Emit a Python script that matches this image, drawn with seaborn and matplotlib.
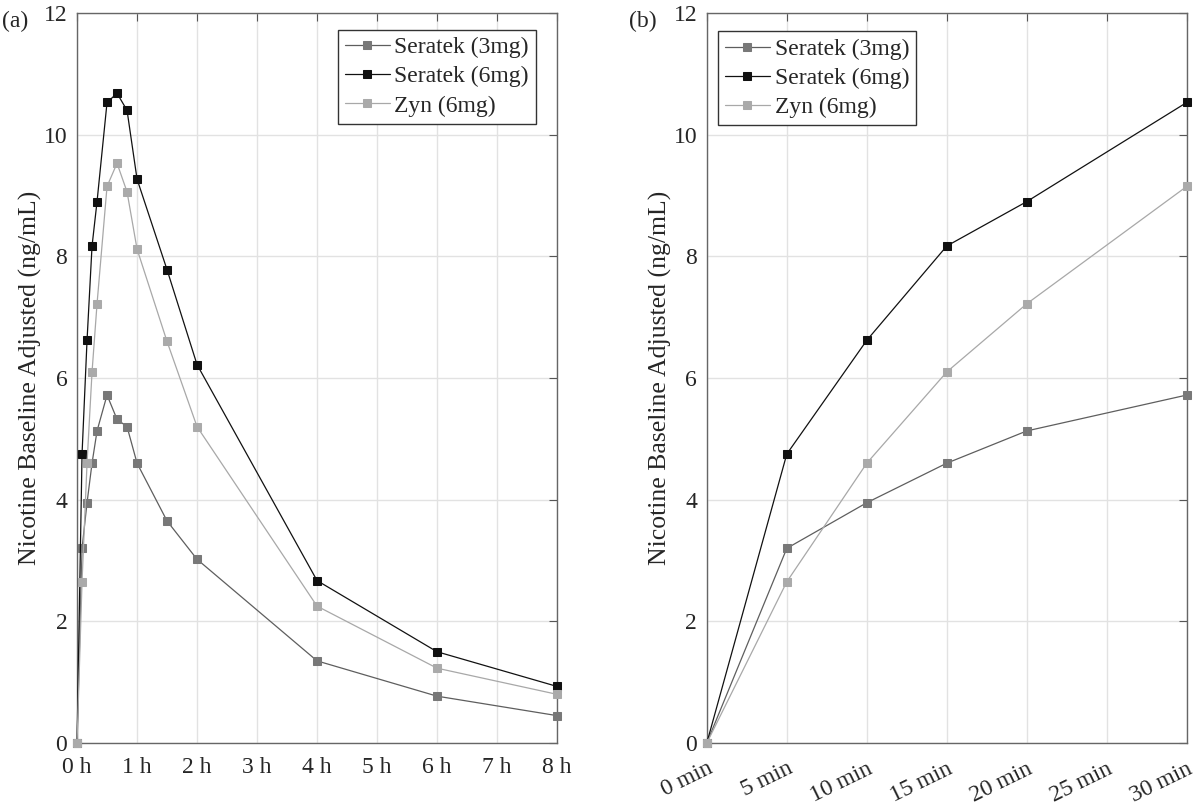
import numpy as np
import pandas as pd
import matplotlib
matplotlib.use('Agg')
import matplotlib.pyplot as plt
import seaborn as sns

# sampling times in minutes
minutes = [0, 5, 10, 15, 20, 30, 40, 50, 60, 90, 120, 240, 360, 480]

seratek_3mg = [0, 3.20, 3.95, 4.60, 5.13, 5.72, 5.32, 5.20, 4.60, 3.65, 3.02, 1.35, 0.77, 0.45]
seratek_6mg = [0, 4.75, 6.62, 8.17, 8.90, 10.53, 10.68, 10.40, 9.27, 7.78, 6.22, 2.67, 1.50, 0.93]
zyn_6mg = [0, 2.65, 4.60, 6.10, 7.22, 9.15, 9.53, 9.06, 8.12, 6.60, 5.20, 2.25, 1.23, 0.80]

series_names = ['Seratek (3mg)', 'Seratek (6mg)', 'Zyn (6mg)']
series_values = [seratek_3mg, seratek_6mg, zyn_6mg]
line_colors = ['#5e5e5e', '#111111', '#a8a8a8']
marker_colors = ['#787878', '#111111', '#aaaaaa']

hour_ticks = list(range(0, 9))
hour_labels = [f'{h} h' for h in hour_ticks]
min_ticks = list(range(0, 31, 5))
min_labels = [f'{m} min' for m in min_ticks]

rows = []
for name, vals in zip(series_names, series_values):
    for m, v in zip(minutes, vals):
        rows.append({'series': name, 'minutes': m, 'hours': m / 60, 'value': v})
df = pd.DataFrame(rows)

sns.set_style('white')
plt.rcParams['font.family'] = ['Liberation Serif', 'DejaVu Serif']
plt.rcParams['font.size'] = 17

fig = plt.figure(figsize=(12, 8.07), dpi=100)
ax1 = fig.add_axes([0.0642, 0.0793, 0.400, 0.9046])
ax2 = fig.add_axes([0.589, 0.0793, 0.400, 0.9046])


def draw(ax, data, xcol):
    for name, lc, mc in zip(series_names, line_colors, marker_colors):
        sub = data[data.series == name]
        sns.lineplot(data=sub, x=xcol, y='value', ax=ax, color=lc, linewidth=0.9,
                     marker='s', markersize=5.5, markerfacecolor=mc,
                     markeredgecolor=mc, label=name, errorbar=None, sort=False,
                     clip_on=False, zorder=3)
    ax.set_ylim(0, 12)
    ax.set_yticks([0, 2, 4, 6, 8, 10, 12])
    ax.grid(True, color='#e2e2e2', linewidth=1.0)
    ax.tick_params(direction='in', length=6, top=True, right=True,
                   labelsize=17, color='#555555')
    ax.tick_params(axis='y', pad=7)
    for sp in ax.spines.values():
        sp.set_color('#666666')
        sp.set_linewidth(1.0)
    ax.set_xlabel('')
    ax.set_ylabel('Nicotine Baseline Adjusted (ng/mL)', fontsize=18.5)
    ax.yaxis.set_label_coords(-0.073, 0.5)


legend_kw = dict(fontsize=17, frameon=True, fancybox=False, edgecolor='#333333',
                 framealpha=1, handlelength=1.9, borderpad=0.3, labelspacing=0.32,
                 handletextpad=0.2, borderaxespad=0)

draw(ax1, df, 'hours')
ax1.set_xlim(0, 8)
ax1.set_xticks(hour_ticks)
ax1.set_xticklabels(hour_labels)
ax1.tick_params(axis='x', pad=10)
ax1.legend(loc='upper right', bbox_to_anchor=(0.956, 0.977), **legend_kw)

df2 = df[df.minutes <= 30]
draw(ax2, df2, 'minutes')
ax2.set_xlim(0, 30)
ax2.set_xticks(min_ticks)
ax2.set_xticklabels(min_labels, rotation=26, ha='right', rotation_mode='anchor')
ax2.tick_params(axis='x', pad=11)
ax2.legend(loc='upper left', bbox_to_anchor=(0.023, 0.975), **legend_kw)

fig.text(0.002, 0.967, '(a)', fontsize=17)
fig.text(0.524, 0.967, '(b)', fontsize=17)

fig.savefig('out.png', dpi=100)
